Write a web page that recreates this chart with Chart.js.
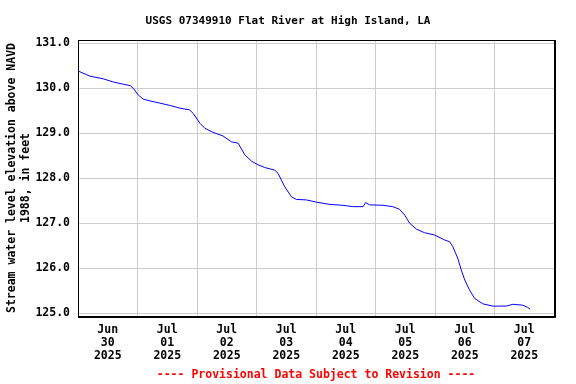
<!DOCTYPE html>
<html lang="en">
<head>
    <meta charset="UTF-8">
    <title>USGS 07349910 Flat River at High Island, LA</title>
    <script src="https://cdn.jsdelivr.net/npm/chart.js@4.4.0/dist/chart.umd.min.js"></script>
    <style>
        html, body { margin: 0; padding: 0; background: #fff; }
        #wrap { width: 576px; height: 384px; }
    </style>
</head>
<body>
    <div id="wrap">
        <canvas id="gage" width="576" height="384"></canvas>
    </div>

    <script>
        // Hours since Jun 30 2025 00:00
        const hours = [0.2, 4.8, 10.2, 14.2, 18.3, 21, 22.3, 24.3, 26.3, 29, 33, 37, 41, 45, 46.5,
            49.2, 51.2, 54.5, 58.5, 61.9, 64.6, 67.3, 70, 72.6, 75.3, 79.4, 80.7, 83.4, 86.1, 88.1,
            92.1, 96.2, 101.5, 106.9, 110.9, 115, 116, 117.6, 123, 127, 129.7, 131.8, 133.8, 136.5,
            139.8, 143.8, 147.9, 149.9, 151.2, 153.2, 154.6, 156, 157.9, 160, 163.3, 167.3, 172.7,
            175.4, 179.4, 181.4, 182.4];

        // Water level elevation, feet above NAVD 1988
        const levels = [130.38, 130.27, 130.21, 130.14, 130.09, 130.06, 130.0, 129.85, 129.76,
            129.72, 129.67, 129.62, 129.56, 129.52, 129.44, 129.22, 129.11, 129.02, 128.94, 128.81,
            128.78, 128.52, 128.38, 128.30, 128.24, 128.18, 128.11, 127.81, 127.59, 127.53, 127.52,
            127.47, 127.42, 127.40, 127.37, 127.37, 127.46, 127.41, 127.40, 127.37, 127.31, 127.18,
            127.0, 126.87, 126.79, 126.74, 126.63, 126.59, 126.48, 126.22, 125.96, 125.74, 125.52,
            125.33, 125.21, 125.16, 125.16, 125.20, 125.18, 125.13, 125.09];

        const dayLabels = [
            ['Jun', '30', '2025'], ['Jul', '01', '2025'], ['Jul', '02', '2025'], ['Jul', '03', '2025'],
            ['Jul', '04', '2025'], ['Jul', '05', '2025'], ['Jul', '06', '2025'], ['Jul', '07', '2025']
        ];
        const yTicks = [125, 126, 127, 128, 129, 130, 131];

        const mono = '"DejaVu Sans Mono", "Liberation Mono", monospace';

        // black frame round the plot area
        const framePlugin = {
            id: 'frame',
            afterDraw(chart) {
                const { ctx, chartArea: a } = chart;
                const l = Math.round(a.left), t = Math.round(a.top);
                const r = Math.round(a.right), b = Math.round(a.bottom);
                ctx.save();
                ctx.strokeStyle = '#000';
                ctx.lineWidth = 1;
                ctx.strokeRect(l + 0.5, t + 0.5, r - l, b - t);
                ctx.beginPath();
                ctx.moveTo(r + 1.5, t);
                ctx.lineTo(r + 1.5, b + 1.5);
                ctx.lineTo(l, b + 1.5);
                ctx.stroke();
                ctx.restore();
            }
        };

        new Chart(document.getElementById('gage'), {
            type: 'line',
            data: {
                datasets: [{
                    data: hours.map((h, i) => ({ x: h, y: levels[i] })),
                    borderColor: '#0000ff',
                    borderWidth: 1,
                    pointRadius: 0,
                    tension: 0,
                    fill: false
                }]
            },
            options: {
                responsive: false,
                animation: false,
                layout: { padding: 0 },
                plugins: {
                    legend: { display: false },
                    tooltip: { enabled: false },
                    title: {
                        display: true,
                        text: 'USGS 07349910 Flat River at High Island, LA',
                        color: '#000',
                        font: { family: mono, size: 11, weight: 'bold', lineHeight: 1.2 },
                        padding: { top: 15, bottom: 11.8 }
                    }
                },
                scales: {
                    x: {
                        type: 'linear',
                        min: 0,
                        max: 192,
                        afterBuildTicks: (axis) => {
                            const t = [];
                            for (let v = 0; v <= 192; v += 12) t.push({ value: v });
                            axis.ticks = t;
                        },
                        afterFit: (axis) => { axis.height = 68; },
                        grid: {
                            drawTicks: false,
                            color: (c) => (c.tick && c.tick.value % 24 === 0) ? '#cccccc' : 'rgba(0,0,0,0)'
                        },
                        border: { display: false },
                        ticks: {
                            autoSkip: false,
                            maxRotation: 0,
                            padding: 7.5,
                            color: '#000',
                            font: { family: mono, size: 11.5, weight: 'bold', lineHeight: '13px' },
                            callback: (v) => v % 24 === 12 ? dayLabels[(v - 12) / 24] : ''
                        },
                        title: {
                            display: true,
                            text: '---- Provisional Data Subject to Revision ----',
                            color: '#ff0000',
                            font: { family: mono, size: 11.5, weight: 'bold', lineHeight: '13px' },
                            padding: { top: 0, bottom: 2.5 }
                        }
                    },
                    y: {
                        type: 'linear',
                        min: 124.94,
                        max: 131.073,
                        afterBuildTicks: (axis) => { axis.ticks = yTicks.map(v => ({ value: v })); },
                        afterFit: (axis) => { axis.width = 78; },
                        grid: { drawTicks: false, color: '#cccccc' },
                        border: { display: false },
                        ticks: {
                            padding: 8,
                            color: '#000',
                            font: { family: mono, size: 11.5, weight: 'bold' },
                            callback: (v) => v.toFixed(1)
                        },
                        title: {
                            display: true,
                            text: ['Stream water level elevation above NAVD', '1988, in feet'],
                            color: '#000',
                            font: { family: mono, size: 11.5, weight: 'bold', lineHeight: '14px' },
                            padding: { top: 5, bottom: 0 }
                        }
                    },
                    // empty right-hand margin axis so the title stays centred on the page
                    yRight: {
                        type: 'linear',
                        position: 'right',
                        min: 124.94,
                        max: 131.073,
                        afterFit: (axis) => { axis.width = 22; },
                        grid: { display: false },
                        border: { display: false },
                        ticks: { display: false }
                    }
                }
            },
            plugins: [framePlugin]
        });
    </script>
</body>
</html>
